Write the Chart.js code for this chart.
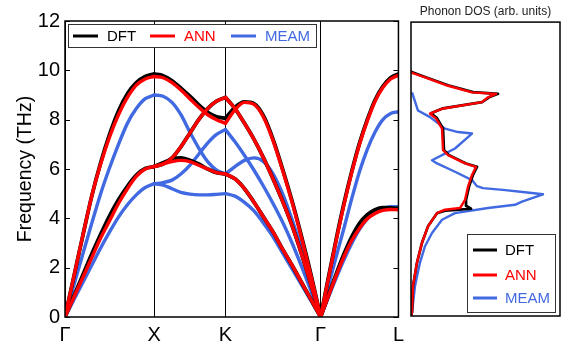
<!DOCTYPE html>
<html>
<head>
<meta charset="utf-8">
<script src="https://cdn.jsdelivr.net/npm/chart.js@4.4.0/dist/chart.umd.min.js"></script>
<style>
  html, body { margin: 0; padding: 0; background: #fff; }
  #wrap { position: relative; width: 566px; height: 348px; }
  canvas { position: absolute; top: 0; }
  #bands { left: 0; }
  #dos { left: 408px; }
</style>
</head>
<body>
<div id="wrap">
  <canvas id="bands" width="410" height="348"></canvas>
  <canvas id="dos" width="158" height="348"></canvas>
</div>
<script>
// high-symmetry path
const pathLabels = ['Γ', 'X', 'K', 'Γ', 'L'];
const pathPos = [0, 1, 1.8, 2.867, 3.74];
const freqTicks = [0, 2, 4, 6, 8, 10, 12];

// sample positions along each segment (fraction of the segment)
const qGX = [0, .1, .2, .3, .4, .5, .6, .7, .8, .9, 1];
const qXK = [0, .125, .25, .375, .5, .625, .75, .875, 1];
const qKG = [0, .1, .2, .3, .4, .5, .6, .7, .8, .9, 1];
const qGL = [0, .1, .2, .3, .4, .5, .6, .7, .8, .9, 1];

// Γ-X
const dftGX = [
  [0, 1.65, 3.3, 4.9, 6.25, 7.4, 8.35, 9.05, 9.5, 9.75, 9.85],
  [0, 0.85, 1.7, 2.55, 3.35, 4.1, 4.75, 5.3, 5.75, 6.02, 6.1]
];
const annGX = [
  [0, 1.65, 3.3, 4.9, 6.2, 7.3, 8.2, 8.9, 9.4, 9.65, 9.75],
  [0, 0.8, 1.6, 2.4, 3.2, 3.9, 4.6, 5.2, 5.7, 6.0, 6.1]
];
const meamGX = [
  [0, 1.3, 2.55, 3.8, 5.0, 6.05, 7.0, 7.85, 8.45, 8.85, 9.0],
  [0, 0.7, 1.4, 2.1, 2.8, 3.45, 4.05, 4.55, 4.95, 5.25, 5.4]
];

// X-K
const dftXK = [
  [9.85, 9.78, 9.58, 9.28, 8.95, 8.6, 8.3, 8.12, 8.05],
  [6.1, 6.2, 6.45, 6.9, 7.45, 8.0, 8.45, 8.75, 8.9],
  [6.1, 6.25, 6.4, 6.45, 6.35, 6.2, 6.0, 5.85, 5.8]
];
const annXK = [
  [9.75, 9.7, 9.5, 9.2, 8.85, 8.5, 8.2, 8.0, 7.85],
  [6.1, 6.2, 6.45, 6.9, 7.45, 8.0, 8.45, 8.75, 8.9],
  [6.1, 6.2, 6.3, 6.35, 6.3, 6.15, 6.0, 5.85, 5.8]
];
const meamXK = [
  [9.0, 8.95, 8.7, 8.2, 7.5, 6.85, 6.3, 5.95, 5.8],
  [5.4, 5.45, 5.55, 5.8, 6.15, 6.6, 7.05, 7.4, 7.6],
  [5.4, 5.35, 5.2, 5.05, 4.98, 4.95, 4.95, 4.97, 5.0]
];

// K-Γ
const dftKG = [
  [8.9, 8.45, 7.85, 7.2, 6.45, 5.6, 4.7, 3.7, 2.55, 1.3, 0],
  [8.05, 8.5, 8.72, 8.65, 8.15, 7.2, 6.0, 4.7, 3.25, 1.7, 0],
  [5.8, 5.6, 5.2, 4.65, 4.05, 3.45, 2.75, 2.1, 1.4, 0.7, 0]
];
const annKG = [
  [8.9, 8.45, 7.85, 7.2, 6.45, 5.6, 4.7, 3.7, 2.55, 1.3, 0],
  [7.85, 8.4, 8.7, 8.62, 8.1, 7.15, 5.95, 4.65, 3.2, 1.65, 0],
  [5.8, 5.6, 5.2, 4.65, 4.05, 3.45, 2.75, 2.1, 1.4, 0.7, 0]
];
const meamKG = [
  [7.6, 7.1, 6.55, 5.95, 5.3, 4.6, 3.85, 3.0, 2.05, 1.05, 0],
  [5.8, 6.1, 6.35, 6.45, 6.3, 5.8, 5.0, 3.95, 2.75, 1.4, 0],
  [5.0, 4.9, 4.65, 4.3, 3.8, 3.25, 2.6, 1.95, 1.3, 0.65, 0]
];

// Γ-L
const dftGL = [
  [0, 1.6, 3.15, 4.6, 5.9, 7.05, 8.0, 8.8, 9.35, 9.7, 9.85],
  [0, 0.88, 1.74, 2.55, 3.25, 3.8, 4.15, 4.35, 4.43, 4.42, 4.4]
];
const annGL = [
  [0, 1.55, 3.1, 4.55, 5.85, 7.0, 7.95, 8.75, 9.3, 9.65, 9.8],
  [0, 0.85, 1.68, 2.45, 3.1, 3.6, 3.98, 4.2, 4.32, 4.36, 4.35]
];
const meamGL = [
  [0, 1.25, 2.45, 3.6, 4.8, 5.9, 6.8, 7.5, 8.0, 8.25, 8.32],
  [0, 0.8, 1.58, 2.32, 2.98, 3.55, 3.98, 4.26, 4.41, 4.47, 4.47]
];

// phonon DOS (frequency in THz, density in arb. units)
const dftDosFreq = [10.0, 9.97, 9.76, 9.42, 9.14, 9.07, 8.93, 8.73, 8.48, 8.28, 8.08, 7.65, 6.77, 6.57, 6.23, 6.09, 5.76, 5.28, 4.74, 4.5, 4.38, 4.33, 4.3, 4.2, 3.66, 2.99, 2.18, 1.23, 0.15, 0];
const dftDos = [0, 0.0, 0.14, 0.37, 0.62, 0.87, 0.78, 0.71, 0.32, 0.2, 0.26, 0.32, 0.33, 0.38, 0.55, 0.66, 0.62, 0.58, 0.55, 0.55, 0.6, 0.45, 0.34, 0.26, 0.17, 0.11, 0.06, 0.02, 0.01, 0];
const annDosFreq = [10.0, 9.94, 9.74, 9.4, 9.13, 9.07, 8.93, 8.73, 8.46, 8.26, 8.07, 7.65, 6.77, 6.57, 6.23, 6.09, 5.76, 5.28, 4.74, 4.54, 4.41, 4.34, 4.2, 3.66, 2.99, 2.18, 1.23, 0.15, 0];
const annDos = [0, 0.0, 0.14, 0.37, 0.61, 0.85, 0.77, 0.71, 0.31, 0.19, 0.25, 0.31, 0.32, 0.37, 0.54, 0.65, 0.61, 0.57, 0.54, 0.51, 0.49, 0.34, 0.26, 0.17, 0.11, 0.06, 0.02, 0.01, 0];
const meamDosFreq = [9.13, 8.39, 8.12, 7.65, 7.51, 7.45, 6.84, 6.63, 6.36, 6.23, 5.89, 5.55, 5.4, 5.3, 5.22, 5.15, 5.05, 4.97, 4.67, 4.54, 4.41, 4.2, 3.93, 3.39, 2.85, 2.18, 1.23, 0.15, 0];
const meamDos = [0.01, 0.07, 0.19, 0.34, 0.47, 0.61, 0.44, 0.34, 0.21, 0.26, 0.44, 0.61, 0.64, 0.66, 0.72, 0.92, 1.14, 1.32, 1.11, 1.04, 0.77, 0.44, 0.31, 0.21, 0.14, 0.09, 0.04, 0.01, 0];

const colors = { DFT: '#000000', ANN: '#ff0000', MEAM: '#4169e1' };
const fontFamily = '"Liberation Sans", Arial, sans-serif';

// one dataset per branch and segment
const bandSets = [];
function addSegment(name, seg, q, branches) {
  const x0 = pathPos[seg], x1 = pathPos[seg + 1];
  const style = {
    DFT: { w: 3.8, order: 1 },
    ANN: { w: 3.4, order: 0 },
    MEAM: { w: 3.4, order: 2 }
  }[name];
  branches.forEach(b => {
    bandSets.push({
      label: name,
      data: b.map((f, i) => ({ x: x0 + q[i] * (x1 - x0), y: f })),
      borderColor: colors[name],
      borderWidth: style.w,
      order: style.order,
      showLine: true,
      pointRadius: 0,
      cubicInterpolationMode: 'monotone',
      borderCapStyle: 'round',
      borderJoinStyle: 'round'
    });
  });
}
[['DFT', [dftGX, dftXK, dftKG, dftGL]],
 ['ANN', [annGX, annXK, annKG, annGL]],
 ['MEAM', [meamGX, meamXK, meamKG, meamGL]]].forEach(([name, segs]) => {
  addSegment(name, 0, qGX, segs[0]);
  addSegment(name, 1, qXK, segs[1]);
  addSegment(name, 2, qKG, segs[2]);
  addSegment(name, 3, qGL, segs[3]);
});

function drawLegend(ctx, items, box, layout) {
  ctx.save();
  ctx.fillStyle = '#fff';
  ctx.fillRect(box.x, box.y, box.w, box.h);
  ctx.strokeStyle = '#333';
  ctx.lineWidth = 1;
  ctx.strokeRect(box.x + 0.5, box.y + 0.5, box.w, box.h);
  ctx.font = layout.font + 'px ' + fontFamily;
  ctx.textBaseline = 'middle';
  items.forEach((name, i) => {
    const p = layout.pos[i];
    ctx.strokeStyle = colors[name];
    ctx.lineWidth = 3;
    ctx.beginPath();
    ctx.moveTo(p.x, p.y);
    ctx.lineTo(p.x + layout.len, p.y);
    ctx.stroke();
    ctx.fillStyle = colors[name];
    ctx.fillText(name, p.x + layout.len + layout.gap, p.y + 1);
  });
  ctx.restore();
}

const framePlugin = {
  id: 'frame',
  afterDraw(chart, args, opts) {
    const { ctx, chartArea: a } = chart;
    ctx.save();
    ctx.strokeStyle = '#000';
    ctx.lineWidth = 1.5;
    ctx.strokeRect(a.left, a.top, a.right - a.left, a.bottom - a.top);
    if (opts.ticks) {
      const y = chart.scales.y;
      ctx.lineWidth = 1;
      freqTicks.forEach(v => {
        const py = Math.round(y.getPixelForValue(v)) + 0.5;
        ctx.beginPath();
        ctx.moveTo(a.left, py); ctx.lineTo(a.left + 5, py);
        ctx.moveTo(a.right, py); ctx.lineTo(a.right - 5, py);
        ctx.stroke();
      });
    }
    ctx.restore();
    if (opts.legend) drawLegend(ctx, ['DFT', 'ANN', 'MEAM'], opts.legend.box, opts.legend.layout);
  }
};

new Chart(document.getElementById('bands'), {
  type: 'scatter',
  data: { datasets: bandSets },
  plugins: [framePlugin],
  options: {
    responsive: false,
    animation: false,
    layout: { padding: { top: 21, right: 11, left: 0, bottom: 0 } },
    plugins: {
      legend: { display: false },
      tooltip: { enabled: false },
      frame: {
        ticks: true,
        legend: {
          box: { x: 68, y: 24, w: 248, h: 23 },
          layout: {
            font: 15, len: 25, gap: 9,
            pos: [{ x: 73, y: 36 }, { x: 150, y: 36 }, { x: 231, y: 36 }]
          }
        }
      }
    },
    scales: {
      x: {
        type: 'linear',
        min: 0,
        max: pathPos[pathPos.length - 1],
        afterBuildTicks: s => { s.ticks = pathPos.map(v => ({ value: v })); },
        afterFit: s => { s.height = 31; },
        ticks: {
          callback: (v, i) => pathLabels[i],
          color: '#000',
          font: { family: fontFamily, size: 20 },
          padding: 6,
          maxRotation: 0,
          autoSkip: false
        },
        grid: { color: '#000', lineWidth: 1, drawTicks: false },
        border: { display: false }
      },
      y: {
        min: 0,
        max: 12,
        afterFit: s => { s.width = 65; },
        ticks: {
          stepSize: 2,
          color: '#000',
          font: { family: fontFamily, size: 20 },
          padding: 5
        },
        grid: { display: false, drawTicks: false },
        border: { display: false },
        title: {
          display: true,
          text: 'Frequency (THz)',
          color: '#000',
          font: { family: fontFamily, size: 19.5 },
          padding: { top: 14, bottom: 0 }
        }
      }
    }
  }
});

const dosSets = [
  ['MEAM', meamDosFreq, meamDos, 2],
  ['DFT', dftDosFreq, dftDos, 1],
  ['ANN', annDosFreq, annDos, 0]
].map(([name, freq, dos, order]) => ({
  label: name,
  data: freq.map((f, i) => ({ x: dos[i], y: f })),
  borderColor: colors[name],
  borderWidth: name === 'DFT' ? 2.7 : 2.4,
  order: order,
  showLine: true,
  pointRadius: 0,
  tension: 0,
  borderJoinStyle: 'round'
}));

new Chart(document.getElementById('dos'), {
  type: 'scatter',
  data: { datasets: dosSets },
  plugins: [framePlugin],
  options: {
    responsive: false,
    animation: false,
    layout: { padding: { top: 0, right: 6, left: 3, bottom: 32 } },
    plugins: {
      legend: { display: false },
      tooltip: { enabled: false },
      title: {
        display: true,
        text: 'Phonon DOS (arb. units)',
        color: '#222',
        font: { family: fontFamily, size: 12, weight: 'normal' },
        padding: { top: 4, bottom: 3.7 }
      },
      frame: {
        ticks: false,
        legend: {
          box: { x: 59, y: 234, w: 88, h: 78 },
          layout: {
            font: 15, len: 24, gap: 8,
            pos: [{ x: 65, y: 250 }, { x: 65, y: 275 }, { x: 65, y: 298 }]
          }
        }
      }
    },
    scales: {
      x: { display: false, min: 0, max: 1.49 },
      y: { display: false, min: 0, max: 12 }
    }
  }
});
</script>
</body>
</html>
